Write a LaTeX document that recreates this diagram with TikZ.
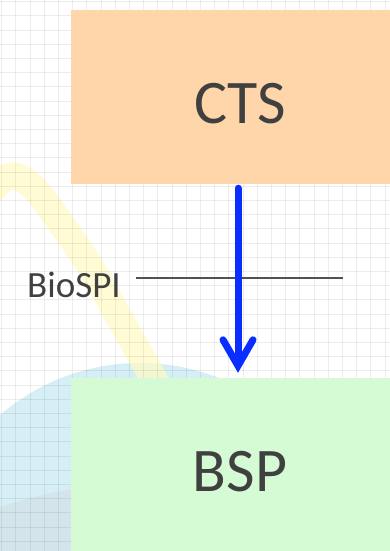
\documentclass[tikz,border=0pt]{standalone}
\usepackage{fontspec}
\setmainfont{Carlito}
\usetikzlibrary{arrows.meta}
\definecolor{ctsfill}{HTML}{FFD5AA}
\definecolor{bspfill}{HTML}{D4FBD4}
\definecolor{txt}{HTML}{404040}
\definecolor{hill}{HTML}{D6EEF5}
\definecolor{hilldark}{HTML}{D3E5EB}
\definecolor{band}{HTML}{FFFCC4}
\definecolor{arrowblue}{HTML}{0A2EFF}
\tikzset{
  box/.style={rectangle, inner sep=0pt, anchor=base, minimum width=338pt, text=txt, font=\fontsize{62}{62}\selectfont},
  flow/.style={draw=arrowblue, line width=7pt, line cap=round, -{Straight Barb[length=26pt, width=30pt, line cap=round, line join=miter]}},
  sepline/.style={draw=black!68, line width=1.3pt},
  lbl/.style={inner sep=0pt, anchor=base west, text=txt, font=\fontsize{37}{37}\selectfont},
  gridline/.style={draw=black, opacity=0.07, line width=1pt}
}
\begin{document}
\begin{tikzpicture}[x=1pt,y=-1pt]
\useasboundingbox (0,0) rectangle (390,551);
\begin{scope}
\clip (0,0) rectangle (390,551);
\fill[white] (0,0) rectangle (390,551);
% background hill
\fill[hill] (140,577) circle (214);
\fill[hilldark] (-5,509) .. controls (30,497) and (60,490) .. (110,483) -- (110,560) -- (-5,560) -- cycle;
% yellow band
\draw[band, line width=27pt, opacity=0.7] plot[smooth, tension=0.6] coordinates {(-22,206) (0,182) (15,176) (35,189) (60,222) (90,266) (120,319) (155,381) (172,412)};
% grid
\foreach \i in {0,...,28} {
  \draw[gridline] (1.7+14.2*\i,0) -- (1.7+14.2*\i,551);
}
\foreach \j in {0,...,39} {
  \draw[gridline] (0,1.7+14.2*\j) -- (390,1.7+14.2*\j);
}
% boxes
\node[box, fill=ctsfill, text height=113pt, text depth=61pt] (cts) at (240,123) {CTS};
\node[box, fill=bspfill, text height=113pt, text depth=71pt] (bsp) at (240,491) {BSP};
% separator line and label
\node[lbl] (biospi) at (27,297) {BioSPI};
\coordinate (l1) at (136,278);
\coordinate (l2) at (343,278);
\draw[sepline] (l1) -- (l2);
% arrow
\draw[flow, shorten <=4pt, shorten >=5pt] ([xshift=-2pt]cts.south) -- ([xshift=-2pt]bsp.north);
\end{scope}
\end{tikzpicture}
\end{document}
